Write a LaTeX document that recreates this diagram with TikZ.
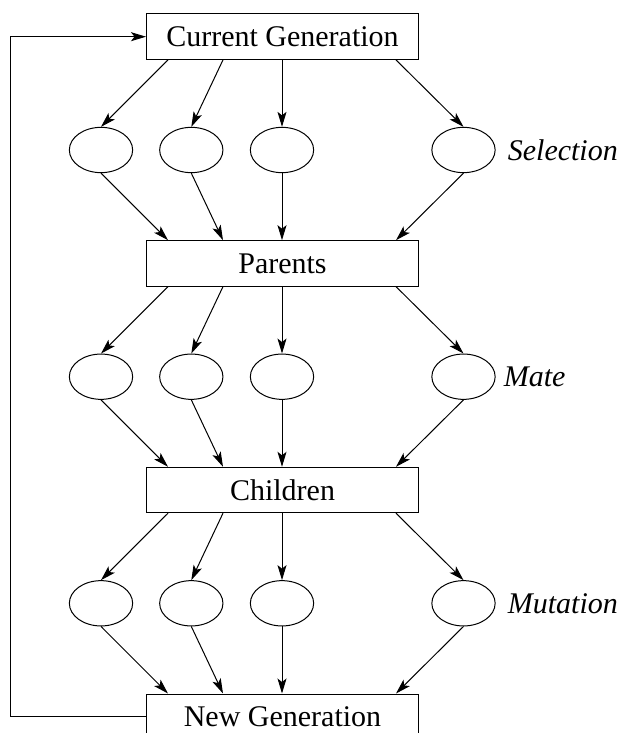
\documentclass[tikz,border=0pt]{standalone}
\usepackage{fontspec}
\setmainfont{Liberation Serif}
\usetikzlibrary{shapes.geometric,arrows.meta}
\begin{document}
\begin{tikzpicture}[x=1pt, y=-1pt, line width=1pt,
		every node/.style={text centered, font=\fontsize{30}{36}\selectfont},
		genbox/.style={rectangle, draw, minimum width=272pt, minimum height=45.4pt, inner sep=0pt},
		blob/.style={ellipse, draw, minimum width=63.3pt, minimum height=45.3pt, inner sep=0pt},
		opname/.style={anchor=west, font=\fontsize{30}{36}\selectfont\itshape},
		>={Stealth[length=15pt, width=9pt, inset=3.5pt]}]
	\useasboundingbox (0,0) rectangle (622,733);

	% generations
	\node[genbox] (cur) at (282.5, 36.7) {Current Generation};
	\node[genbox] (par) at (282.5, 263.4) {Parents};
	\node[genbox] (chi) at (282.5, 490) {Children};
	\node[genbox] (newg) at (282.5, 716.7) {New Generation};

	% operators
	\foreach \r/\y in {s/150, m/376.7, u/603.3} {
		\node[blob] (\r1) at (101, \y) {};
		\node[blob] (\r2) at (191.3, \y) {};
		\node[blob] (\r3) at (282, \y) {};
		\node[blob] (\r4) at (463.5, \y) {};
	}
	\node[opname] (sel) at (504, 150) {Selection};
	\node[opname] (mate) at (500, 376.7) {Mate};
	\node[opname] (mut) at (504, 603.3) {Mutation};

	\foreach \top/\r/\bot in {cur/s/par, par/m/chi, chi/u/newg} {
		\foreach \i/\dx in {1/22, 2/77, 3/136, 4/250} {
			\draw[->] ([xshift=\dx pt]\top.south west) -- (\r\i.north);
			\draw[->] (\r\i.south) -- ([xshift=\dx pt]\bot.north west);
		}
	}

	% back to the start
	\draw[->] (newg.west) -- ++(-136, 0) |- (cur.west);
\end{tikzpicture}
\end{document}
